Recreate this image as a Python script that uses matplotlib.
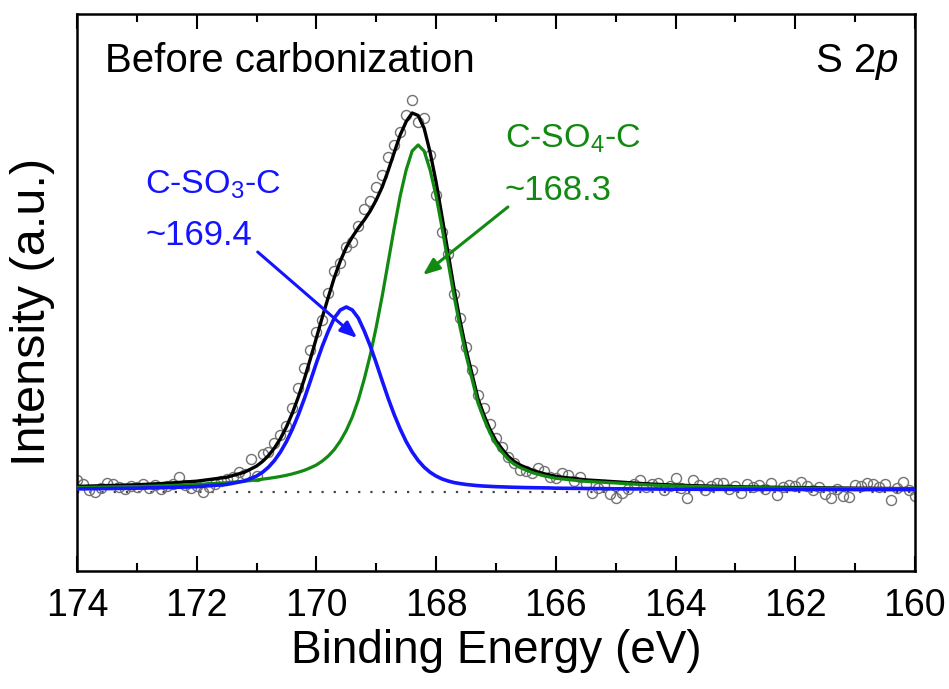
import numpy as np
import matplotlib
matplotlib.use("Agg")
import matplotlib.pyplot as plt
from matplotlib.ticker import MultipleLocator

plt.rcParams['font.family'] = ['Liberation Sans', 'DejaVu Sans']
plt.rcParams['mathtext.fontset'] = 'custom'
plt.rcParams['mathtext.rm'] = 'Liberation Sans'
plt.rcParams['mathtext.it'] = 'Liberation Sans:italic'

# ---- measured data (binding energy 174.0 -> 160.0 eV, 0.1 eV step) ----
data_energy = np.round(np.arange(174.0, 159.95, -0.1), 1)
data_intensity = [
    10, 6, 0, -2, 2, 7, 6, 3, 1, 4,
    3, 6, 2, 5, 1, 4, 6, 13, 5, 2,
    4, -2, 3, 6, 9, 11, 13, 18, 16, 31,
    14, 36, 38, 47, 55, 64, 82, 102, 122, 140,
    158, 170, 197, 219, 227, 243, 248, 264, 281, 289,
    303, 315, 333, 345, 358, 375, 390, 368, 372, 335,
    295, 258, 236, 196, 172, 143, 120, 95, 82, 66,
    52, 43, 33, 27, 20, 19, 17, 22, 19, 13,
    12, 17, 15, 9, 13, 6, -3, 2, 5, -4,
    -8, -3, 1, 6, 10, 3, 6, 7, 0, 4,
    12, 2, -8, 10, 5, 0, 4, 7, 7, 1,
    4, -3, 6, 3, 5, 1, 7, -5, 3, 5,
    4, 8, 4, 0, 3, -4, -8, 1, -6, -7,
    5, 4, 7, 6, 3, 6, -10, 2, 8, 0,
    -6,
]

# ---- fitted components ----
curve_energy = [174.0, 173.5, 173.0, 172.5, 172.0, 171.5, 171.2, 171.0,
                170.9, 170.8, 170.7, 170.6, 170.5, 170.4, 170.3, 170.2, 170.1, 170.0,
                169.9, 169.8, 169.7, 169.6, 169.5, 169.4, 169.3, 169.2, 169.1, 169.0,
                168.9, 168.8, 168.7, 168.6, 168.5, 168.4, 168.3, 168.2, 168.1, 168.0,
                167.9, 167.8, 167.7, 167.6, 167.5, 167.4, 167.3, 167.2, 167.1, 167.0,
                166.9, 166.8, 166.7, 166.6, 166.5, 166.4, 166.3, 166.2, 166.1, 166.0,
                165.5, 165.0, 164.5, 164.0, 163.0, 162.0, 161.0, 160.0]
so4_fit = [2.5, 3.0, 3.4, 4.3, 5.5, 7.2, 8.8, 10.0,
           10.8, 11.6, 12.5, 13.5, 14.7, 16.1, 17.8, 19.7, 22.2, 25,
           29, 34, 40.5, 49, 59.6, 73, 90, 111, 135, 163,
           194, 228, 262, 294, 320, 339, 345, 339, 320, 294,
           262, 228, 194, 163, 135, 111, 87, 71, 57, 46,
           38, 31, 26, 22.5, 20, 17.5, 15.8, 14.2, 12.9, 11.7,
           8.6, 7.0, 5.2, 4.0, 2.6, 1.9, 1.4, 1.0]
so3_fit = [1.1, 1.4, 1.8, 2.4, 3.3, 5.5, 9, 13.9,
           17.7, 22.8, 29.5, 38, 48.4, 61, 75.4, 91.5, 109, 127,
           144, 159, 172, 180, 183, 180, 172, 159, 144, 127,
           109, 91.5, 75.4, 61, 48.4, 38, 29.5, 22.8, 17.7, 13.9,
           11, 9, 7.4, 6.4, 5.5, 4.9, 4.3, 3.9, 3.6, 3.3,
           3.1, 2.9, 2.7, 2.55, 2.4, 2.3, 2.2, 2.1, 2.0, 1.8,
           1.5, 1.2, 1.0, 0.8, 0.6, 0.5, 0.4, 0.3]
envelope = np.array(so4_fit) + np.array(so3_fit)

x_ticks = [174, 172, 170, 168, 166, 164, 162, 160]

BLUE = '#1414ff'
GREEN = '#128a12'

fig = plt.figure(figsize=(9.49, 6.89), dpi=100)
ax = fig.add_axes([0.0811, 0.1713, 0.883, 0.8084])

ax.axhline(-2.5, color='#444444', lw=1.6, ls=(0, (1, 4.5)), zorder=1)
ax.plot(data_energy, data_intensity, 'o', ms=7.2, mfc='none', mec='#727272',
        mew=1.0, zorder=2)
ax.plot(curve_energy, envelope, color='black', lw=2.4, zorder=3)
ax.plot(curve_energy, so4_fit, color=GREEN, lw=2.3, zorder=4)
ax.plot(curve_energy, so3_fit, color=BLUE, lw=2.6, zorder=5)

ax.set_xlim(174, 160)
ax.set_ylim(-81, 476)
ax.set_xticks(x_ticks)
ax.set_xticklabels([str(t) for t in x_ticks])
ax.xaxis.set_minor_locator(MultipleLocator(1))
ax.set_yticks([])
ax.tick_params(axis='x', which='major', direction='in', length=11, width=1.5,
               top=True, labelsize=27, pad=12)
ax.tick_params(axis='x', which='minor', direction='in', length=6, width=1.5,
               top=True)
for s in ax.spines.values():
    s.set_linewidth(1.8)

ax.set_xlabel('Binding Energy (eV)', fontsize=33, labelpad=4)
ax.set_ylabel('Intensity (a.u.)', fontsize=35)
ax.yaxis.set_label_coords(-0.026, 0.465)

ax.text(0.033, 0.896, 'Before carbonization', transform=ax.transAxes,
        fontsize=29, ha='left', va='baseline')
ax.text(0.98, 0.896, 'S 2$p$', transform=ax.transAxes,
        fontsize=29, ha='right', va='baseline')

ax.text(172.86, 296, 'C-SO$_3$-C', color=BLUE, fontsize=24.5, va='baseline')
ax.text(172.86, 245, '~169.4', color=BLUE, fontsize=25, va='baseline')
ax.text(166.85, 342, 'C-SO$_4$-C', color=GREEN, fontsize=24.5, va='baseline')
ax.text(166.85, 290, '~168.3', color=GREEN, fontsize=25, va='baseline')

ax.annotate('', xy=(169.32, 152), xytext=(170.98, 238),
            arrowprops=dict(arrowstyle='-|>,head_length=1.0,head_width=0.4',
                            color=BLUE, lw=2.2, shrinkA=0, shrinkB=0))
ax.annotate('', xy=(168.22, 215), xytext=(166.80, 283),
            arrowprops=dict(arrowstyle='-|>,head_length=1.0,head_width=0.4',
                            color=GREEN, lw=2.2, shrinkA=0, shrinkB=0))

fig.savefig('out.png', dpi=100)
